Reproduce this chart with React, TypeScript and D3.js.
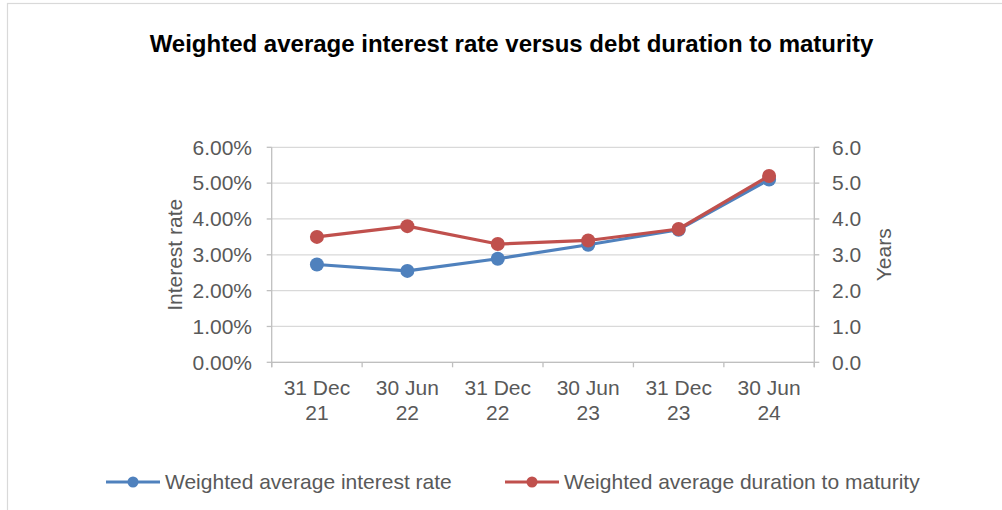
import React from "react";
import * as d3 from "d3";

const categories = [["31 Dec", "21"], ["30 Jun", "22"], ["31 Dec", "22"], ["30 Jun", "23"], ["31 Dec", "23"], ["30 Jun", "24"]];
const interestRate = [2.73, 2.55, 2.89, 3.28, 3.7, 5.1];
const duration = [3.5, 3.8, 3.3, 3.4, 3.72, 5.2];
const leftTicks = [0, 1, 2, 3, 4, 5, 6];
const rightTicks = [0, 1, 2, 3, 4, 5, 6];
const seriesNames = ["Weighted average interest rate", "Weighted average duration to maturity"];
const colors = ["#4F81BD", "#C0504D"];

const W = 1002, H = 510;
const L = 271.7, R = 814.3, T = 147.3, B = 362.3;
const FONT = "'Liberation Sans', Arial, sans-serif";
const GRAY = "#595959";
const FS = 21;

export default function App() {
  const x = d3.scaleBand<number>().domain(d3.range(categories.length)).range([L, R]);
  const yL = d3.scaleLinear().domain([0, 6]).range([B, T]);
  const yR = d3.scaleLinear().domain([0, 6]).range([B, T]);
  const cx = (i: number) => (x(i) as number) + x.bandwidth() / 2;
  const lineL = d3.line<number>().x((_, i) => cx(i)).y((d) => yL(d));
  const lineR = d3.line<number>().x((_, i) => cx(i)).y((d) => yR(d));
  const xTickPos = d3.range(categories.length + 1).map((i) => L + i * x.bandwidth());

  const legend = [
    { x0: 106, tx: 165, name: seriesNames[0], c: colors[0] },
    { x0: 505, tx: 564, name: seriesNames[1], c: colors[1] },
  ];

  return (
    <svg width={W} height={H} style={{ position: "absolute", left: 0, top: 0, background: "#fff" }} fontFamily={FONT}>
      <rect x={7.5} y={3.5} width={W + 10} height={H + 10} fill="#fff" stroke="#d9d9d9" strokeWidth={1.2} />
      <text x={511.5} y={52} textAnchor="middle" fontSize={24} fontWeight="bold" fill="#000">
        Weighted average interest rate versus debt duration to maturity
      </text>
      {leftTicks.map((t) => (
        <g key={"g" + t}>
          <line x1={L} x2={R} y1={yL(t)} y2={yL(t)} stroke="#d9d9d9" strokeWidth={1.3} />
          <line x1={L - 5} x2={L} y1={yL(t)} y2={yL(t)} stroke="#bfbfbf" strokeWidth={1.3} />
          <text x={252} y={yL(t)} dy="0.35em" textAnchor="end" fontSize={FS} fill={GRAY}>
            {t.toFixed(2) + "%"}
          </text>
        </g>
      ))}
      {rightTicks.map((t) => (
        <g key={"r" + t}>
          <line x1={R} x2={R + 5} y1={yR(t)} y2={yR(t)} stroke="#bfbfbf" strokeWidth={1.3} />
          <text x={832} y={yR(t)} dy="0.35em" textAnchor="start" fontSize={FS} fill={GRAY}>
            {t.toFixed(1)}
          </text>
        </g>
      ))}
      <line x1={L} x2={L} y1={T} y2={B + 5} stroke="#bfbfbf" strokeWidth={1.3} />
      <line x1={R} x2={R} y1={T} y2={B + 5} stroke="#bfbfbf" strokeWidth={1.3} />
      <line x1={L} x2={R} y1={B} y2={B} stroke="#bfbfbf" strokeWidth={1.3} />
      {xTickPos.map((p, i) => (
        <line key={"xt" + i} x1={p} x2={p} y1={B} y2={B + 5} stroke="#bfbfbf" strokeWidth={1.3} />
      ))}
      {categories.map((c, i) => (
        <text key={"xl" + i} x={cx(i)} y={395} textAnchor="middle" fontSize={FS} fill={GRAY}>
          <tspan x={cx(i)}>{c[0]}</tspan>
          <tspan x={cx(i)} dy={24.5}>{c[1]}</tspan>
        </text>
      ))}
      <text transform={`translate(182,${(T + B) / 2}) rotate(-90)`} textAnchor="middle" fontSize={FS} fill={GRAY}>
        Interest rate
      </text>
      <text transform={`translate(891,${(T + B) / 2}) rotate(-90)`} textAnchor="middle" fontSize={FS} fill={GRAY}>
        Years
      </text>
      <path d={lineL(interestRate) || ""} fill="none" stroke={colors[0]} strokeWidth={3.2} strokeLinejoin="round" />
      {interestRate.map((v, i) => (
        <circle key={"b" + i} cx={cx(i)} cy={yL(v)} r={7} fill={colors[0]} />
      ))}
      <path d={lineR(duration) || ""} fill="none" stroke={colors[1]} strokeWidth={3.2} strokeLinejoin="round" />
      {duration.map((v, i) => (
        <circle key={"rr" + i} cx={cx(i)} cy={yR(v)} r={7} fill={colors[1]} />
      ))}
      {legend.map((l, i) => (
        <g key={"lg" + i}>
          <line x1={l.x0} x2={l.x0 + 54} y1={482} y2={482} stroke={l.c} strokeWidth={3.2} />
          <circle cx={l.x0 + 27} cy={482} r={5.5} fill={l.c} />
          <text x={l.tx} y={482} dy="0.35em" fontSize={FS} fill={GRAY}>{l.name}</text>
        </g>
      ))}
    </svg>
  );
}
